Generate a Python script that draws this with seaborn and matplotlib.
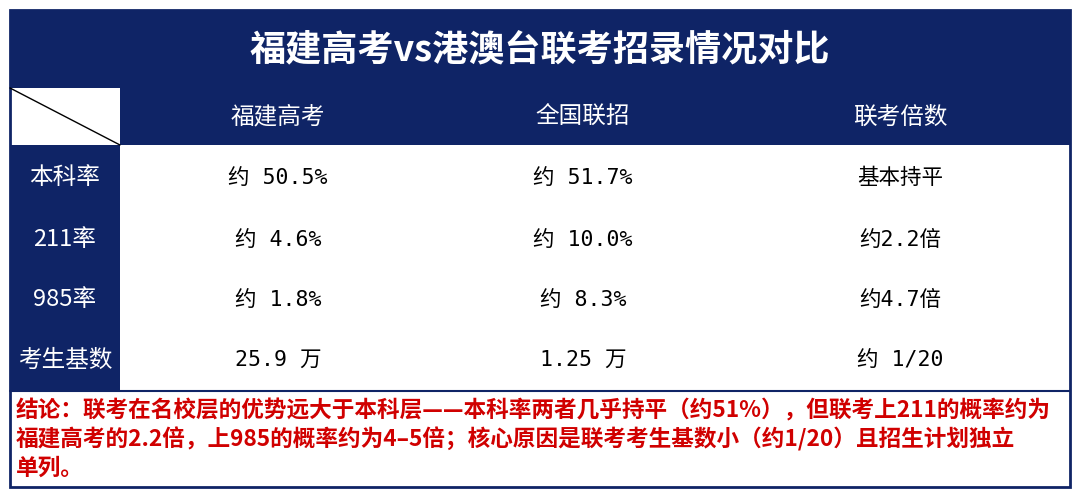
import matplotlib
matplotlib.use("Agg")
import matplotlib.pyplot as plt
from matplotlib.patches import Rectangle
import seaborn as sns

sns.set_theme(style="white")
plt.rcParams['font.family'] = ['Noto Sans CJK SC', 'DejaVu Sans']

title = "福建高考vs港澳台联考招录情况对比"
columns = ["福建高考", "全国联招", "联考倍数"]
row_labels = ["本科率", "211率", "985率", "考生基数"]
col_fujian = ["约 50.5%", "约 4.6%", "约 1.8%", "25.9 万"]
col_lianzhao = ["约 51.7%", "约 10.0%", "约 8.3%", "1.25 万"]
col_ratio = ["基本持平", "约2.2倍", "约4.7倍", "约 1/20"]
conclusion = ["结论：联考在名校层的优势远大于本科层——本科率两者几乎持平（约51%），但联考上211的概率约为",
              "福建高考的2.2倍，上985的概率约为4–5倍；核心原因是联考考生基数小（约1/20）且招生计划独立",
              "单列。"]

navy = "#0f2466"
body_font = ['DejaVu Sans Mono', 'Noto Sans CJK SC']
fig = plt.figure(figsize=(10.8, 4.96), dpi=100)
ax = fig.add_axes([0, 0, 1, 1])
ax.set_xlim(0, 1080); ax.set_ylim(496, 0); ax.axis("off")

ax.add_patch(Rectangle((10, 10), 1060, 477, facecolor="white", edgecolor=navy, lw=2))
ax.add_patch(Rectangle((10, 10), 1060, 78, facecolor=navy, edgecolor="none"))
ax.text(540, 50, title, color="white", fontsize=26, fontweight="bold", ha="center", va="center")
ax.add_patch(Rectangle((120, 88), 950, 57, facecolor=navy, edgecolor="none"))
ax.plot([10, 120], [88, 145], color="black", lw=1)
col_x = [278, 583, 900]
for x, c in zip(col_x, columns):
    ax.text(x, 117, c, color="white", fontsize=17, ha="center", va="center")
ax.add_patch(Rectangle((10, 145), 110, 246, facecolor=navy, edgecolor="none"))
row_y = [178, 240, 300, 360]
for y, lab in zip(row_y, row_labels):
    ax.text(65, y, lab, color="white", fontsize=17, ha="center", va="center")
for col, x in zip([col_fujian, col_lianzhao, col_ratio], col_x):
    for y, v in zip(row_y, col):
        ax.text(x, y, v, color="black", fontsize=15.5, ha="center", va="center", family=body_font)
ax.plot([10, 1070], [391, 391], color=navy, lw=1.5)
for i, line in enumerate(conclusion):
    ax.text(16, 411 + 28.5 * i, line, color="#d00000", fontsize=16.3, fontweight="bold",
            ha="left", va="center")

fig.savefig("out.png", dpi=100)
